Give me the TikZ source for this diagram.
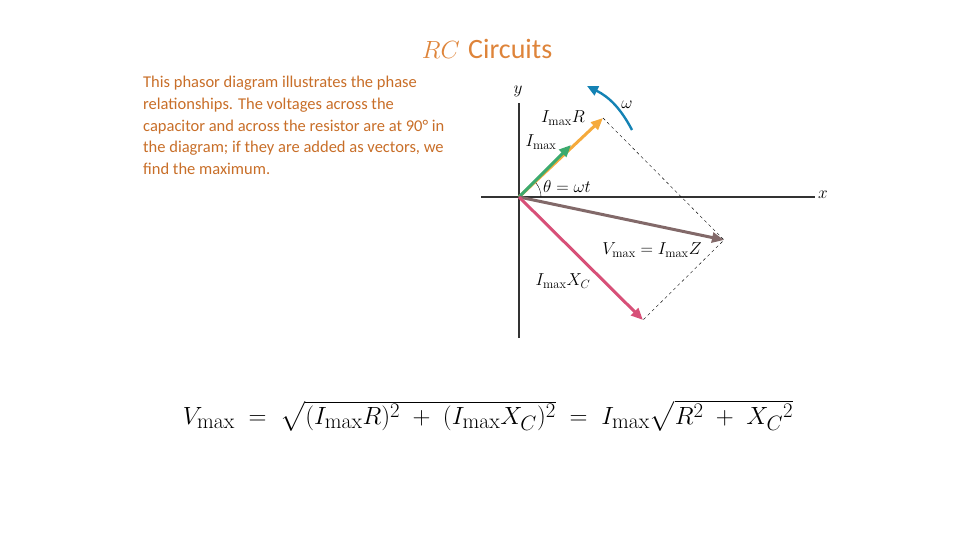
\documentclass[tikz,border=0pt]{standalone}
\usepackage{fontspec}
\usepackage{amsmath}
\newfontfamily\carfont{Carlito}
\usetikzlibrary{arrows.meta}
\definecolor{ttl}{RGB}{222,132,58}
\definecolor{txt}{RGB}{200,110,40}
\definecolor{cgreen}{RGB}{60,170,110}
\definecolor{corange}{RGB}{245,170,60}
\definecolor{cbrown}{RGB}{130,105,105}
\definecolor{cpink}{RGB}{215,80,120}
\definecolor{cblue}{RGB}{20,130,180}
\tikzset{vec/.style={line width=3pt,-{Triangle[length=12pt,width=10pt]}},
 ax/.style={line width=1.4pt,black!80},
 lab/.style={font=\fontsize{18}{18}\selectfont,inner sep=1pt}}
\begin{document}
\begin{tikzpicture}[x=1pt,y=-1pt]
\useasboundingbox (0,0) rectangle (960,540);
\node (title) at (487,49) {\fontsize{28}{28}\selectfont\color{ttl}$RC$ {\carfont Circuits}};
\node[anchor=north west,align=left,inner sep=0pt,font=\carfont\fontsize{16.5}{21.7}\selectfont,text=txt] (para) at (143,76) {This phasor diagram illustrates the phase\\relationships. The voltages across the\\capacitor and across the resistor are at 90° in\\the diagram; if they are added as vectors, we\\find the maximum.};
\coordinate (O) at (519,197);
\coordinate (xl) at (481,197); \coordinate (xr) at (815,197);
\coordinate (yt) at (519,103); \coordinate (yb) at (519,338);
\draw[ax] (xl) -- (xr); \draw[ax] (yb) -- (yt);
\node[lab] (xlab) at (823,195) {$x$};
\node[lab] (ylab) at (518,91) {$y$};
\coordinate (R) at (603,118); \coordinate (I) at (571,145);
\coordinate (C) at (643,320); \coordinate (V) at (724,240);
\draw[dashed,thin] (R) -- (V) -- (C);
\draw[vec,corange] (O) -- (R);
\draw[vec,cgreen] (O) -- (I);
\draw[vec,cbrown] (O) -- (V);
\draw[vec,cpink] (O) -- (C);
\coordinate (w1) at (632,130); \coordinate (w2) at (587,86);
\draw[cblue,line width=2.4pt,-{Triangle[length=11pt,width=10pt]}] (w1) to[bend right=18] (w2);
\node[lab] (wlab) at (627,105) {$\omega$};
\draw[thin] (541,197) arc[start angle=0,end angle=-40,radius=22];
\node[lab,anchor=west] (th) at (542,186) {$\theta = \omega t$};
\node[lab] (lR) at (563,118) {$I_{\text{max}}R$};
\node[lab] (lI) at (541,142) {$I_{\text{max}}$};
\node[lab] (lV) at (652,250) {$V_{\text{max}} = I_{\text{max}}Z$};
\node[lab] (lC) at (563,281) {$I_{\text{max}}X_C$};
\node (eq) at (488,416) {\fontsize{31}{31}\selectfont$V_{\text{max}} \;=\; \sqrt{(I_{\text{max}}R)^2 \;+\; (I_{\text{max}}X_C)^2} \;=\; I_{\text{max}}\sqrt{R^2 \;+\; X_C{}^2}$};
\end{tikzpicture}
\end{document}
